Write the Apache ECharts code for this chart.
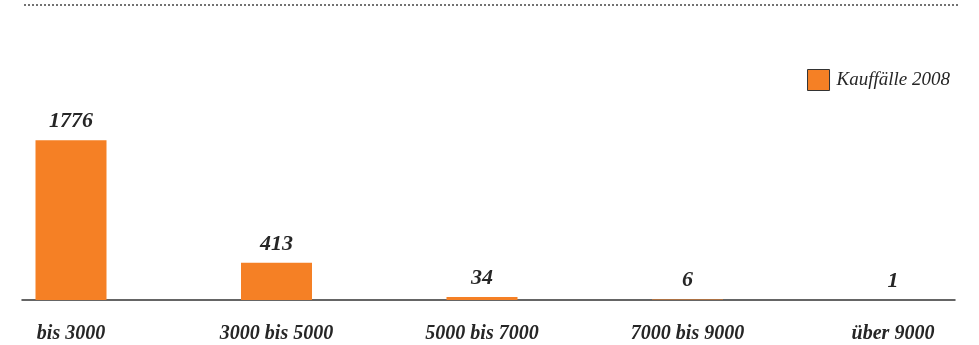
<!DOCTYPE html>
<html>
<head>
<meta charset="utf-8">
<script src="https://cdn.jsdelivr.net/npm/echarts@6/dist/echarts.min.js"></script>
<style>
  html, body { margin: 0; padding: 0; background: #fff; }
  #chart { width: 979px; height: 345px; }
</style>
</head>
<body>
<div id="chart"></div>
<script>
// Preisklassen (EUR/m²) und Anzahl Kauffälle
const categories = ['bis 3000', '3000 bis 5000', '5000 bis 7000', '7000 bis 9000', 'über 9000'];
const kauffaelle = [1776, 413, 34, 6, 1];
const seriesName = 'Kauffälle 2008';

const orange = '#F58025';
const textColor = '#262626';
const serif = '"Liberation Serif", "DejaVu Serif", serif';

const chart = echarts.init(document.getElementById('chart'));

const option = {
    backgroundColor: '#fff',
    animation: false,
    legend: {
        data: [seriesName],
        icon: 'rect',
        right: 24,
        top: 64,
        itemWidth: 22,
        itemHeight: 21,
        itemGap: 0,
        itemStyle: { color: orange, borderColor: '#333', borderWidth: 1 },
        textStyle: {
            fontFamily: serif,
            fontStyle: 'italic',
            fontSize: 19,
            color: textColor,
            padding: [0, 0, 0, 2]
        }
    },
    // Gestrichelte Linie oben
    graphic: [{
        type: 'line',
        shape: { x1: 24, y1: 5, x2: 958, y2: 5 },
        style: { stroke: '#444', lineWidth: 1.5, lineDash: [2, 2] }
    }],
    grid: [
        // Balken (Kategorien reichen links/rechts über den Rand)
        { left: -31.75, right: -16.75, top: 120, bottom: 45, outerBoundsMode: 'none' },
        // nur die Grundlinie
        { left: 22, right: 24, top: 120, bottom: 45, outerBoundsMode: 'none' }
    ],
    xAxis: [{
        type: 'category',
        gridIndex: 0,
        data: categories,
        axisLine: { show: false },
        axisTick: { show: false },
        axisLabel: {
            margin: 24,
            fontFamily: serif,
            fontStyle: 'italic',
            fontWeight: 'bold',
            fontSize: 20,
            color: textColor
        }
    }, {
        type: 'category',
        gridIndex: 1,
        data: [''],
        axisLine: { lineStyle: { color: '#333', width: 1.5 } },
        axisTick: { show: false },
        axisLabel: { show: false }
    }],
    yAxis: [{
        type: 'value',
        gridIndex: 0,
        min: 0,
        max: 2000,
        show: false,
        splitLine: { show: false }
    }, {
        type: 'value',
        gridIndex: 1,
        min: 0,
        max: 1,
        show: false,
        splitLine: { show: false }
    }],
    series: [{
        name: seriesName,
        type: 'bar',
        xAxisIndex: 0,
        yAxisIndex: 0,
        data: kauffaelle,
        barWidth: 71,
        itemStyle: { color: orange },
        label: {
            show: true,
            position: 'top',
            distance: 8,
            fontFamily: serif,
            fontStyle: 'italic',
            fontWeight: 'bold',
            fontSize: 22,
            color: textColor
        }
    }]
};

chart.setOption(option);
</script>
</body>
</html>
